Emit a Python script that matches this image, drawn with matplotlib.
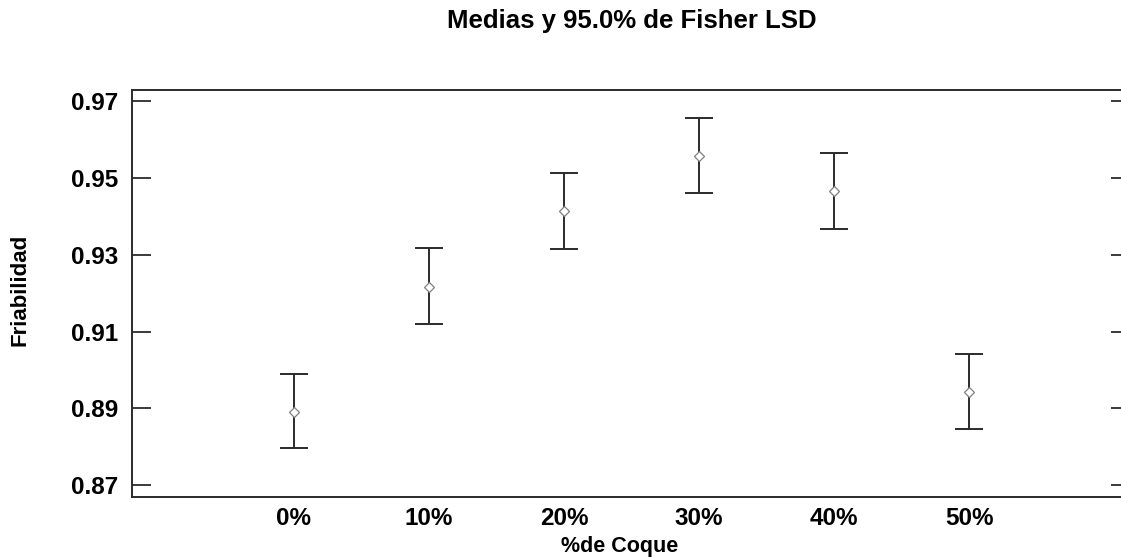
import matplotlib
matplotlib.use("Agg")
import matplotlib.pyplot as plt

# Datos (medias e intervalos LSD 95%)
coque = ["0%", "10%", "20%", "30%", "40%", "50%"]
medias = [0.8891, 0.9217, 0.9414, 0.9558, 0.9467, 0.8943]
inferior = [0.8796, 0.9120, 0.9316, 0.9460, 0.9368, 0.8846]
superior = [0.8989, 0.9317, 0.9512, 0.9656, 0.9565, 0.9041]
yticks = [0.87, 0.89, 0.91, 0.93, 0.95, 0.97]

plt.rcParams["font.family"] = ["Liberation Sans", "DejaVu Sans"]
plt.rcParams["font.weight"] = "bold"

fig = plt.figure(figsize=(11.21, 5.57), dpi=100)
ax = fig.add_axes([0.1178, 0.1077, 0.8903, 0.7307])

x = list(range(len(coque)))
err_lo = [m - l for m, l in zip(medias, inferior)]
err_hi = [u - m for m, u in zip(medias, superior)]

ax.errorbar(x, medias, yerr=[err_lo, err_hi], fmt="none", ecolor="#2b2b2b",
            elinewidth=1.4, capsize=10, capthick=1.4)
ax.plot(x, medias, linestyle="none", marker="D", markersize=5.5,
        markerfacecolor="white", markeredgecolor="#808080", markeredgewidth=0.9)

ax.set_xlim(-1.197, 6.19)
ax.set_ylim(0.86687, 0.97295)
ax.set_yticks(yticks)
ax.set_yticklabels([f"{v:.2f}" for v in yticks], fontsize=17.5, fontweight="bold")
ax.set_xticks(x)
ax.set_xticklabels(coque, fontsize=17.5, fontweight="bold")

ax.tick_params(axis="y", direction="in", length=13.7, width=1.3, pad=10,
               left=True, right=True, color="#2b2b2b")
ax.tick_params(axis="x", length=0, pad=7.5)

for s in ax.spines.values():
    s.set_linewidth(1.4)
    s.set_color("#2b2b2b")

ax.set_xlabel("%de Coque", fontsize=15.5, fontweight="bold")
ax.xaxis.set_label_coords(0.489, -0.095)
ax.set_ylabel("Friabilidad", fontsize=16, fontweight="bold")
ax.yaxis.set_label_coords(-0.102, 0.51)

fig.text(0.564, 0.962, "Medias y 95.0% de Fisher LSD", ha="center", va="center",
         fontsize=18.5, fontweight="bold")

fig.savefig("out.png", dpi=100)
